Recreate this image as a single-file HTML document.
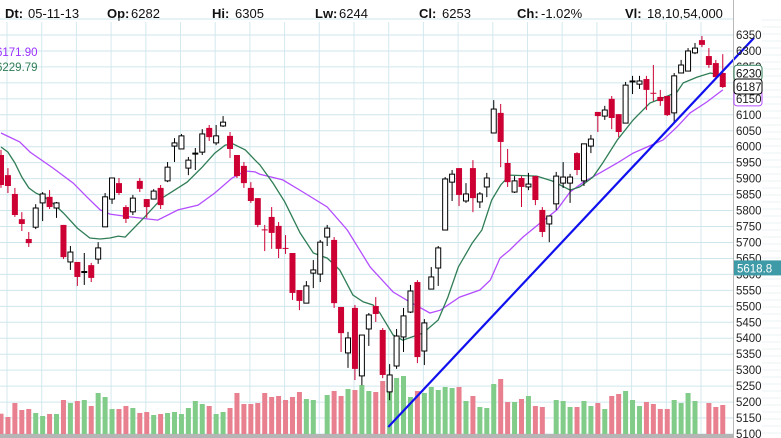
<!DOCTYPE html>
<html><head><meta charset="utf-8">
<style>
html,body{margin:0;padding:0;background:#fff;}
body{width:781px;height:438px;overflow:hidden;position:relative;font-family:"Liberation Sans",Tahoma,sans-serif;}
#hdr{position:absolute;left:0;top:0;width:781px;height:24px;font-size:13px;color:#111;}
#hdr span{position:absolute;top:6px;white-space:nowrap;}
#hdr span.l{font-weight:bold;}
svg{position:absolute;left:0;top:0;}
</style></head><body>
<div id="hdr">
<span class="l" style="left:5px">Dt:</span><span style="left:28px">05-11-13</span>
<span class="l" style="left:107px">Op:</span><span style="left:131px">6282</span>
<span class="l" style="left:212px">Hi:</span><span style="left:235px">6305</span>
<span class="l" style="left:315px">Lw:</span><span style="left:339px">6244</span>
<span class="l" style="left:419px">Cl:</span><span style="left:442px">6253</span>
<span class="l" style="left:517px">Ch:</span><span style="left:541px">-1.02%</span>
<span class="l" style="left:625px">Vl:</span><span style="left:647px">18,10,54,000</span>
</div>
<svg id="chart" width="781" height="438"></svg>
<script>
const opens=[5974,5911,5852,5773,5711,5748,5824,5843,5808,5755,5639,5639,5606,5629,5648,5749,5836,5886,5811,5796,5893,5836,5836,5871,5893,6002,5993,5933,5977,5983,6059,6012,6065,6034,5974,5940,5871,5839,5741,5780,5752,5683,5667,5551,5510,5604,5601,5717,5708,5498,5354,5495,5282,5429,5501,5426,5232,5313,5404,5482,5576,5360,5554,5620,5739,5889,5933,5830,5933,5827,5874,6043,6106,5949,5858,5902,5874,5908,5802,5758,5821,5886,5886,5980,5893,6002,6109,6096,6150,6102,6074,6203,6196,6212,6169,6156,6159,6106,6231,6237,6294,6334,6284,6262,6231];
const highs=[5990,5933,5871,5795,5733,5820,5858,5864,5827,5755,5689,5639,5667,5636,5701,5855,5902,5902,5817,5849,5902,5836,5867,5880,5952,6027,6040,5968,5996,6055,6068,6068,6096,6046,5974,5952,5889,5839,5755,5811,5764,5723,5667,5551,5579,5645,5708,5755,5717,5498,5420,5504,5410,5479,5529,5432,5319,5429,5495,5567,5582,5460,5623,5689,5905,5927,5933,5886,5958,5858,5918,6146,6134,5993,5908,5908,5918,5908,5811,5783,5921,5952,5915,5983,6009,6037,6109,6128,6159,6102,6203,6222,6222,6222,6256,6178,6159,6231,6272,6309,6325,6347,6309,6272,6290];
const lows=[5871,5855,5780,5736,5686,5742,5767,5805,5777,5648,5614,5564,5567,5576,5633,5749,5821,5849,5761,5786,5858,5777,5836,5805,5889,5952,5993,5911,5927,5974,6018,6005,6062,5965,5902,5871,5824,5748,5673,5680,5651,5664,5520,5488,5510,5557,5576,5689,5495,5357,5307,5269,5253,5376,5451,5275,5206,5304,5357,5479,5322,5316,5554,5564,5739,5830,5814,5824,5795,5808,5842,6043,5936,5874,5855,5811,5864,5817,5717,5701,5802,5871,5824,5911,5877,5980,6046,6084,6055,6030,6074,6165,6181,6115,6143,6128,6096,6077,6231,6237,6290,6312,6247,6218,6184];
const closes=[5880,5877,5786,5758,5698,5808,5852,5811,5824,5654,5670,5592,5609,5589,5683,5843,5902,5855,5774,5839,5868,5811,5861,5817,5936,6012,6034,5958,5980,6040,6030,6034,6077,5993,5908,5886,5830,5755,5739,5730,5680,5680,5542,5517,5564,5614,5701,5745,5510,5416,5401,5304,5410,5473,5476,5285,5285,5407,5470,5548,5341,5448,5592,5683,5899,5914,5849,5852,5839,5852,5902,6118,6015,5889,5893,5874,5883,5833,5733,5783,5908,5905,5905,5927,6009,6024,6096,6115,6090,6046,6193,6206,6206,6178,6168,6143,6099,6222,6256,6300,6309,6319,6256,6218,6187];
const volumes=[203,170,310,240,250,210,180,200,200,340,310,330,340,280,410,370,250,250,280,260,210,220,190,200,210,220,200,260,330,300,280,200,220,260,410,300,300,310,410,370,380,340,370,420,350,340,0,390,430,380,450,440,490,430,420,530,550,560,580,370,430,410,470,440,470,460,470,330,380,270,260,500,550,320,320,350,380,280,270,0,340,330,270,270,330,280,310,250,380,400,430,340,280,320,300,250,250,340,310,410,330,0,310,270,290];
const greenIdx=[0,1,2,3,4,5,6.3,7.8,9,11,12.8,14.3,15.7,16.9,17.9,20.7,23.2,26.8,29,30.8,32.3,33.4,35.2,36.6,37.3,39.2,40.9,43.1,45,47,48.8,50.7,52.2,53.6,54.6,56.5,57.9,59.2,60.8,63,64.4,65.9,67.9,69.3,70.7,72,73.3,77.2,79.4,82,83.4,85.3,86.7,88.8,91.1,93.5,95.4,97.4,98.3,100.3,102.2,103.6];
const greenVals=[5999,5983,5949,5905,5871,5855,5842,5817,5792,5745,5714,5711,5714,5720,5717,5780,5839,5889,5936,5980,6005,6009,5990,5958,5943,5886,5827,5730,5667,5651,5614,5535,5514,5504,5479,5410,5394,5404,5416,5457,5529,5623,5698,5739,5833,5880,5911,5908,5893,5864,5874,5905,5949,6021,6084,6137,6153,6171,6200,6218,6231,6225];
const purpleIdx=[0,2.7,4.2,7.5,10.4,12.4,14.3,15.7,18.6,22.6,25.5,28.4,30.8,33.3,35.2,36.6,37.3,40.6,43.5,47,49.9,53.2,56.5,58.9,61.8,63.3,66.1,69,70.5,71.9,73.3,75.2,77.7,80.1,82,83.9,86.3,88.8,91.1,93.1,95.4,97.4,99.3,101.7,104];
const purpleVals=[6043,6015,5983,5933,5886,5842,5802,5789,5780,5770,5802,5817,5855,5902,5924,5921,5914,5896,5858,5811,5739,5623,5545,5514,5479,5488,5529,5551,5582,5651,5676,5717,5761,5802,5858,5889,5918,5949,5980,5999,6021,6062,6106,6140,6178];
const trendIdx=[55.8,108.5];
const trendVals=[5122,6341];
const yTicks=[6350,6300,6250,6200,6150,6100,6050,6000,5950,5900,5850,5800,5750,5700,5650,5600,5550,5500,5450,5400,5350,5300,5250,5200,5150,5100];

const NS='http://www.w3.org/2000/svg';
const svg=document.getElementById('chart');
const X=i=>1+i*6.94;
const Y=p=>35+(6350-p)*0.3192;
const VH=v=>v/10;
function mk(tag,attrs,parent){const e=document.createElementNS(NS,tag);for(const k in attrs)e.setAttribute(k,attrs[k]);(parent||svg).appendChild(e);return e;}

const grid=mk('g',{});


for(let k=0;k<22;k++){const x=7+k*34.7;if(x>732)break;
 const l=mk('line',{x1:x,y1:22,x2:x,y2:434,stroke:'#d4e9ee','stroke-width':1},grid);
 
 }
for(let p=6400;p>=5050;p-=50){const y=Y(p);if(y<18||y>434)continue;
 const l=mk('line',{x1:0,y1:y,x2:733,y2:y,stroke:'#cfe6ec','stroke-width':1},grid);
 
 }
for(let y=20;y<438;y+=7){const l=mk('line',{x1:762,y1:y,x2:781,y2:y,stroke:'#eef3f5','stroke-width':1});
 
 }

const vg=mk('g',{});


volumes.forEach((v,i)=>{if(!v)return;const h=VH(v);const up=closes[i]>=opens[i];
 const r=mk('rect',{x:X(i)-2.5,y:434-h,width:5,height:h,fill:up?'#80cc88':'#e8808f'},vg);
 
 });

function poly(idx,vals,color,name,w){const pts=idx.map((d,k)=>X(d).toFixed(1)+','+Y(vals[k]).toFixed(1)).join(' ');
 const p=mk('polyline',{points:pts,fill:'none',stroke:color,'stroke-width':w});
 
 }
poly(purpleIdx,purpleVals,'#b44dff','moving-average-purple',1.3);
poly(greenIdx,greenVals,'#2f7d55','moving-average-green',1.3);

const cg=mk('g',{});


opens.forEach((o,i)=>{const c=closes[i];const up=c>=o;const x=X(i);
 const col=up?'#000':'#cc0033';
 const w=mk('line',{x1:x,y1:Y(highs[i]),x2:x,y2:Y(lows[i]),stroke:col,'stroke-width':1},cg);
 
 
 const top=Y(Math.max(o,c)),bot=Y(Math.min(o,c));const h=Math.max(1,bot-top);
 const b=up?mk('rect',{x:x-2.5,y:top,width:5,height:h,fill:'#fff',stroke:'#000','stroke-width':1},cg)
          :mk('rect',{x:x-3,y:top,width:6,height:h,fill:'#cc0033'},cg);
 
 });

const tl=mk('line',{x1:X(trendIdx[0]),y1:Y(trendVals[0]),x2:X(trendIdx[1]),y2:Y(trendVals[1]),stroke:'#1010ee','stroke-width':2.2});



const ax=mk('line',{x1:733.5,y1:0,x2:733.5,y2:438,stroke:'#b8b8b8','stroke-width':1});


const base=mk('rect',{x:0,y:434,width:733,height:4,fill:'#b5b5b5'});


yTicks.forEach(p=>{const t=mk('text',{x:736,y:Y(p)+4,'font-size':11.5,fill:'#222','font-family':'Liberation Sans, sans-serif'});
 t.textContent=p;
 
 });

function marker(val,label,border,bg,fg,name){const y=Y(val);
 const r=mk('rect',{x:734,y:y-8,width:28,height:15,rx:3,fill:bg,stroke:border,'stroke-width':1});
 
 
 const t=mk('text',{x:736,y:y+4,'font-size':11.5,fill:fg,'font-family':'Liberation Sans, sans-serif'});
 t.textContent=label;
 
 }
marker(6150,'6150','#b44dff','#fff','#222','purple-ma-marker');
marker(6230,'6230','#2f7d55','#fff','#111','green-ma-marker');
marker(6187,'6187','#000','#fff','#111','last-close-marker');
const cb=mk('rect',{x:734,y:Y(5618.8)-8,width:47,height:15,fill:'#3d9aa6'});


const ct=mk('text',{x:737,y:Y(5618.8)+4,'font-size':11.5,fill:'#fff','font-family':'Liberation Sans, sans-serif'});
ct.textContent='5618.8';



const l1=mk('text',{x:-4,y:56,'font-size':11.5,fill:'#9b30ff','font-family':'Liberation Sans, sans-serif'});
l1.textContent='6171.90';


const l2=mk('text',{x:-4,y:71,'font-size':11.5,fill:'#2f7d55','font-family':'Liberation Sans, sans-serif'});
l2.textContent='6229.79';


</script>
</body></html>
